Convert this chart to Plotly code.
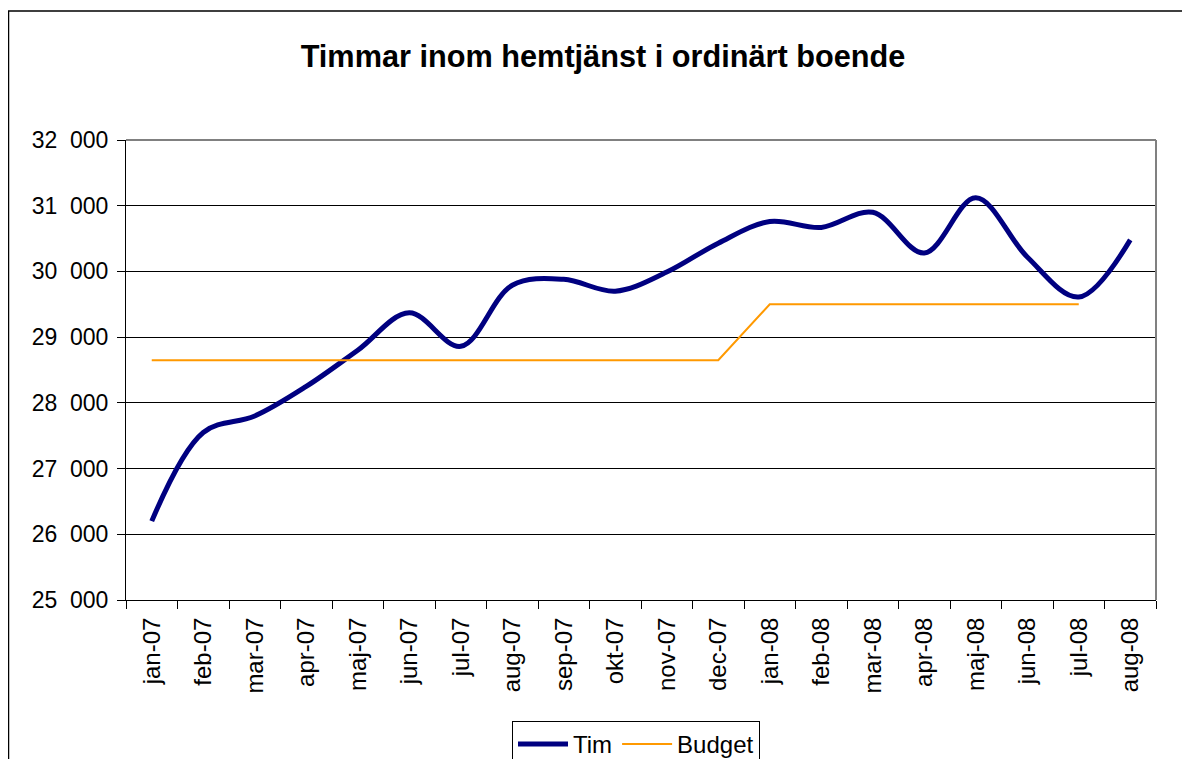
import plotly.graph_objects as go

months = ["jan-07", "feb-07", "mar-07", "apr-07", "maj-07", "jun-07", "jul-07", "aug-07",
          "sep-07", "okt-07", "nov-07", "dec-07", "jan-08", "feb-08", "mar-08", "apr-08",
          "maj-08", "jun-08", "jul-08", "aug-08"]
tim = [26200, 27550, 27800, 28250, 28800, 29370, 28860, 29790, 29880, 29700,
       29990, 30430, 30760, 30670, 30900, 30280, 31120, 30220, 29610, 30480]
budget = [28650] * 12 + [29500] * 7 + [None]
y_ticks = [25000, 26000, 27000, 28000, 29000, 30000, 31000, 32000]
y_tick_text = [f"{v // 1000}\u00a0\u00a0{v % 1000:03d}" for v in y_ticks]

# page is offset by the 8px body margin
OFF = 8
W, H = 1190 - 2 * OFF, 767 - 2 * OFF
L, R, T, B = 126 - OFF, 1156 - OFF, 140 - OFF, 600 - OFF
pw, ph = R - L, B - T


def px(x):
    return (x - OFF - L) / pw


def py(y):
    return (B - (y - OFF)) / ph


fig = go.Figure()
fig.add_trace(go.Scatter(x=months, y=tim, name="Tim", mode="lines",
                         line=dict(color="#000080", width=5, shape="spline", smoothing=1.0)))
fig.add_trace(go.Scatter(x=months, y=budget, name="Budget", mode="lines",
                         line=dict(color="#FF9900", width=2)))

fig.update_layout(
    width=W, height=H,
    margin=dict(l=L, r=W - R, t=T, b=H - B, autoexpand=False),
    paper_bgcolor="white", plot_bgcolor="white",
    font=dict(family="Liberation Sans, Arial, sans-serif", color="black", size=22),
    title=dict(text="<b>Timmar inom hemtjänst i ordinärt boende</b>",
               x=(603 - OFF) / W, xanchor="center", xref="container",
               y=1 - (56 - OFF) / H, yanchor="middle", yref="container",
               font=dict(size=30.7, color="black")),
    showlegend=True,
    legend=dict(orientation="h", x=px(512), xanchor="left", y=py(721), yanchor="top",
                bordercolor="black", borderwidth=1, bgcolor="white",
                font=dict(size=24), itemwidth=50, tracegroupgap=0),
    xaxis=dict(type="category", range=[-0.5, len(months) - 0.5],
               tickmode="array", tickvals=months, ticktext=months,
               tickson="boundaries", ticks="outside", ticklen=8, tickcolor="black",
               tickangle=-90, tickfont=dict(size=24), ticklabelstandoff=7,
               showline=True, linecolor="black", linewidth=1,
               showgrid=False, zeroline=False, fixedrange=True),
    yaxis=dict(range=[25000, 32000], tickmode="array", tickvals=y_ticks, ticktext=y_tick_text,
               ticks="outside", ticklen=8, tickcolor="black",
               tickfont=dict(size=23), ticklabelstandoff=4,
               showline=True, linecolor="black", linewidth=1,
               showgrid=True, gridcolor="black", gridwidth=1,
               zeroline=False, fixedrange=True),
)

# plot area border (grey top/right)
fig.add_shape(type="line", xref="paper", yref="paper", x0=0, x1=1, y0=1, y1=1,
              line=dict(color="#808080", width=2), layer="above")
fig.add_shape(type="line", xref="paper", yref="paper", x0=1, x1=1, y0=0, y1=1,
              line=dict(color="#808080", width=2), layer="above")
# outer chart border
fig.add_shape(type="rect", xref="paper", yref="paper",
              x0=px(8.5), x1=px(1210), y0=py(790), y1=py(11),
              line=dict(color="black", width=1.5), layer="above")

fig.write_html("out.html")
